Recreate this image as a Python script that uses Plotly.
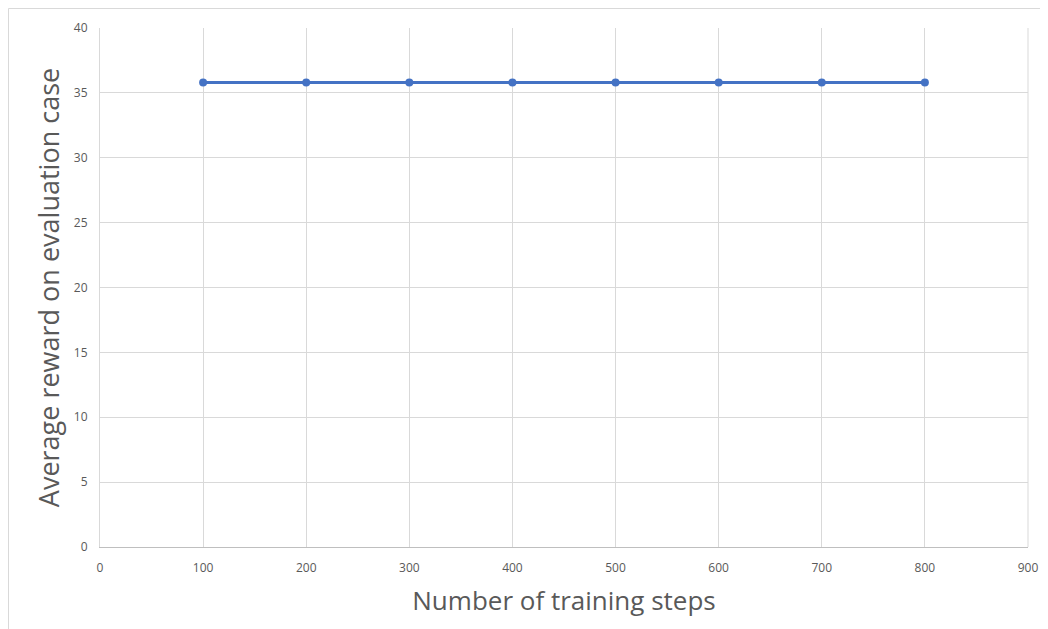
import plotly.graph_objects as go

steps = [100, 200, 300, 400, 500, 600, 700, 800]
avg_reward = [35.8, 35.8, 35.8, 35.8, 35.8, 35.8, 35.8, 35.8]
x_ticks = [0, 100, 200, 300, 400, 500, 600, 700, 800, 900]
y_ticks = [0, 5, 10, 15, 20, 25, 30, 35, 40]

# page body has an 8px margin, so the figure is sized/placed to compensate
W, H = 1032, 621
L, R, T, B = 92, 12, 20, 82
pw, ph = W - L - R, H - T - B

fig = go.Figure()
fig.add_trace(go.Scatter(
    x=steps, y=avg_reward, mode="lines+markers",
    line=dict(color="#4472C4", width=3),
    marker=dict(color="#4472C4", size=8),
    showlegend=False,
))

font_family = "Open Sans, Noto Sans, sans-serif"
fig.update_layout(
    width=W, height=H,
    margin=dict(l=L, r=R, t=T, b=B, autoexpand=False),
    paper_bgcolor="white", plot_bgcolor="white",
    font=dict(family=font_family, color="#595959"),
    xaxis=dict(
        range=[0, 900], tickvals=x_ticks, ticktext=[str(v) for v in x_ticks],
        showgrid=True, gridcolor="#d9d9d9", gridwidth=1,
        showline=True, linecolor="#bfbfbf", linewidth=1, mirror=False,
        zeroline=False, ticks="", ticklabelstandoff=10, automargin=False,
        tickfont=dict(size=12, color="#595959"),
        title=dict(text="Number of training steps", font=dict(size=26, color="#595959"), standoff=16),
    ),
    yaxis=dict(
        range=[0, 40], tickvals=y_ticks, ticktext=[str(v) for v in y_ticks],
        showgrid=True, gridcolor="#d9d9d9", gridwidth=1,
        showline=True, linecolor="#d9d9d9", linewidth=1,
        zeroline=False, ticks="", ticklabelstandoff=9, automargin=False,
        tickfont=dict(size=12, color="#595959"),
        title=dict(text="Average reward on evaluation case", font=dict(size=27, color="#595959"), standoff=6),
    ),
)

# right-side plot edge line
fig.add_shape(type="line", xref="paper", yref="paper", x0=1, x1=1, y0=0, y1=1,
              line=dict(color="#d9d9d9", width=1), layer="below")

# outer chart border
fig.add_shape(type="rect", xref="paper", yref="paper",
              x0=(0.5 - L) / pw, x1=(W + 10 - L) / pw,
              y0=-(B + 10) / ph, y1=1 + (T - 0.5) / ph,
              line=dict(color="#d9d9d9", width=1), layer="below")

fig.write_html("out.html")
